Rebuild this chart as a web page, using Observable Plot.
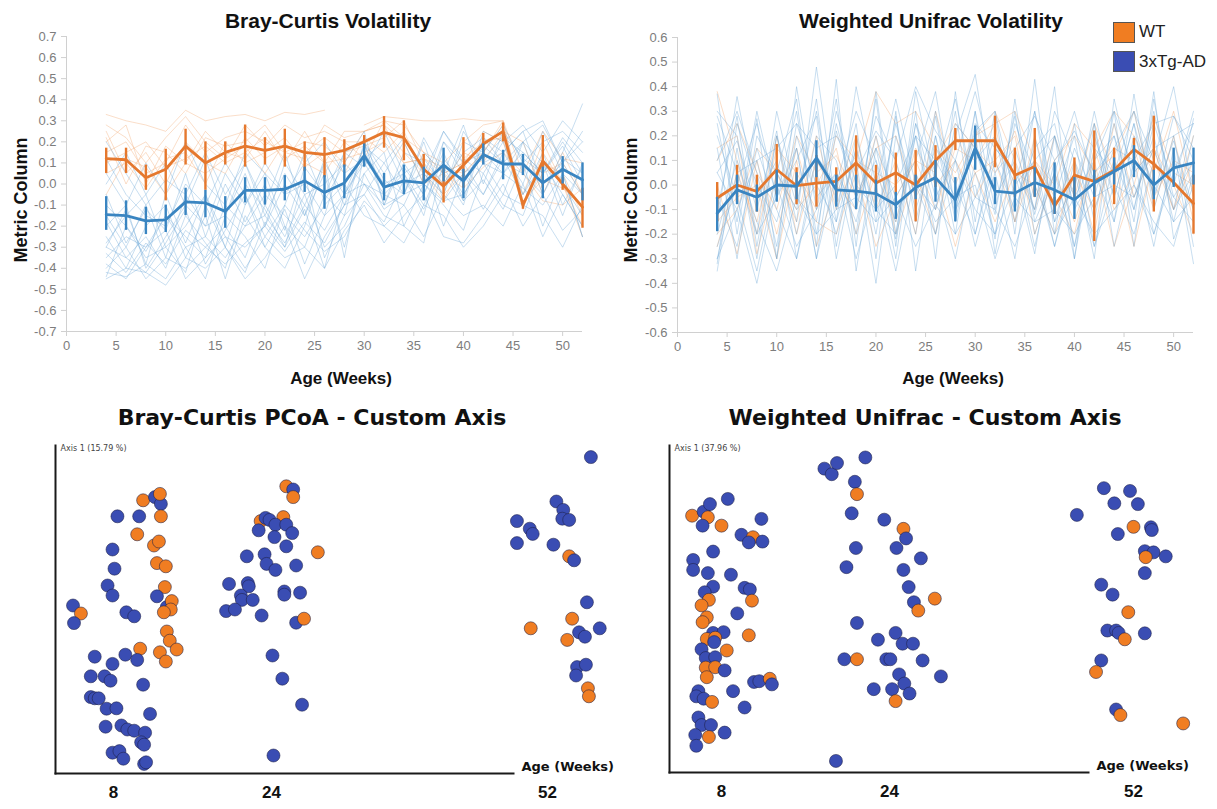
<!DOCTYPE html>
<html><head><meta charset="utf-8">
<script src="https://cdn.jsdelivr.net/npm/d3@7"></script>
<script src="https://cdn.jsdelivr.net/npm/@observablehq/plot@0.6"></script>
<style>
body{margin:0;background:#fff;}
#root{position:relative;width:1217px;height:809px;overflow:hidden;background:#fff;}
.pane{position:absolute;}
.txt{position:absolute;white-space:nowrap;color:#111;font-weight:bold;}
.sans{font-family:"Liberation Sans",Arial,sans-serif;}
.dv{font-family:"DejaVu Sans",Verdana,sans-serif;}
.sw{position:absolute;width:20px;height:19px;border:1px solid #555;}
</style></head><body><div id="root"></div>
<script>
// ---------- shared categories ----------
const groups = ["WT", "3xTg-AD"];
const weeks = [4,6,8,10,12,14,16,18,20,22,24,26,28,30,32,34,36,38,40,42,44,46,48,50,52];
const xTicks = [0,5,10,15,20,25,30,35,40,45,50];
const bcYTicks = [-0.7,-0.6,-0.5,-0.4,-0.3,-0.2,-0.1,0,0.1,0.2,0.3,0.4,0.5,0.6,0.7];
const wuYTicks = [-0.6,-0.5,-0.4,-0.3,-0.2,-0.1,0,0.1,0.2,0.3,0.4,0.5,0.6];
const pcoaAges = [8, 24, 52];

// ---------- Bray-Curtis volatility: group means and error bars ----------
const bcWtMean = [0.12,0.115,0.03,0.07,0.18,0.10,0.15,0.18,0.16,0.18,0.15,0.14,0.16,0.20,0.245,0.22,0.07,-0.01,0.09,0.19,0.25,-0.10,0.11,0.00,-0.11];
const bcWtLo   = [0.05,0.05,-0.03,-0.08,0.09,-0.03,0.09,0.08,0.09,0.08,0.06,0.03,0.08,0.17,0.17,0.11,0.00,-0.09,-0.02,0.12,0.20,-0.12,-0.02,-0.03,-0.21];
const bcWtHi   = [0.17,0.17,0.09,0.165,0.26,0.20,0.20,0.28,0.22,0.26,0.20,0.22,0.21,0.23,0.32,0.30,0.14,0.09,0.22,0.24,0.29,-0.08,0.23,0.03,-0.02];
const bcTgMean = [-0.145,-0.15,-0.175,-0.17,-0.085,-0.09,-0.13,-0.03,-0.03,-0.025,0.015,-0.04,0.005,0.135,-0.015,0.015,0.005,0.09,0.015,0.14,0.095,0.095,0.005,0.07,0.02];
const bcTgLo   = [-0.22,-0.22,-0.24,-0.23,-0.15,-0.16,-0.21,-0.09,-0.10,-0.08,-0.04,-0.12,-0.07,0.08,-0.08,-0.05,-0.08,0.01,-0.07,0.09,0.02,0.04,-0.07,0.0,-0.08];
const bcTgHi   = [-0.06,-0.08,-0.11,-0.10,-0.02,-0.03,-0.06,0.03,0.03,0.04,0.08,0.04,0.09,0.19,0.05,0.09,0.08,0.17,0.07,0.19,0.16,0.14,0.08,0.13,0.10];

// individual subjects (faint)
const bcTgSubjects = [
 [-0.42,-0.44,-0.38,-0.45,-0.30,-0.25,-0.35,-0.20,-0.15,-0.28,-0.10,-0.22,-0.05,0.10,-0.05,0.05,-0.10,0.12,0.0,0.18,0.10,0.05,-0.05,0.12,0.05],
 [-0.30,-0.35,-0.25,-0.40,-0.15,-0.28,-0.40,-0.10,0.05,-0.20,-0.30,-0.05,-0.15,0.20,-0.10,-0.05,0.15,0.05,-0.10,0.22,0.15,0.25,0.0,0.10,-0.05],
 [-0.10,-0.20,-0.35,-0.30,-0.20,-0.05,-0.25,-0.30,-0.20,0.0,-0.15,0.05,-0.30,0.05,0.15,-0.20,-0.28,0.10,-0.05,0.10,-0.05,0.20,0.10,-0.15,0.10],
 [0.12,-0.05,-0.15,-0.20,0.0,-0.10,0.10,-0.05,-0.25,-0.10,0.15,-0.08,0.10,0.25,-0.10,0.15,0.10,-0.05,0.20,0.15,0.28,0.10,0.20,0.25,0.15],
 [-0.40,-0.30,-0.45,-0.35,-0.40,-0.30,-0.20,-0.35,-0.10,-0.25,-0.05,-0.30,-0.20,0.0,-0.15,-0.20,0.0,-0.10,-0.22,0.05,-0.10,-0.15,0.10,-0.05,-0.20],
 [-0.25,-0.40,-0.20,-0.10,-0.35,-0.15,-0.45,-0.15,-0.30,-0.40,-0.20,0.10,-0.35,0.15,0.0,0.05,-0.15,0.20,0.10,-0.05,0.15,0.0,0.25,0.05,-0.25],
 [0.05,-0.10,0.10,-0.05,0.20,0.0,-0.10,0.15,0.05,-0.05,0.10,0.20,0.05,0.12,0.20,0.0,0.05,0.25,0.10,0.15,0.05,0.20,-0.05,0.15,0.38],
 [-0.35,-0.25,-0.30,-0.15,-0.25,-0.35,-0.10,-0.20,-0.05,-0.15,-0.25,-0.10,0.0,-0.15,-0.20,-0.28,-0.10,-0.15,-0.30,-0.20,-0.05,-0.10,-0.15,-0.30,-0.10],
 [-0.20,-0.10,-0.40,-0.25,-0.10,-0.20,0.05,-0.10,0.10,-0.05,0.0,-0.15,0.15,0.20,0.05,0.20,0.0,0.25,0.12,0.05,0.20,0.28,0.15,0.30,0.20],
 [0.0,0.15,-0.05,0.10,-0.10,0.12,-0.15,0.05,-0.20,0.10,-0.05,0.0,0.10,0.0,-0.10,0.10,-0.05,0.15,-0.08,0.25,0.20,-0.05,0.10,0.0,-0.15],
 [-0.45,-0.40,-0.42,-0.48,-0.35,-0.40,-0.30,-0.45,-0.35,-0.20,-0.45,-0.25,-0.10,-0.05,-0.20,-0.10,-0.25,-0.05,-0.15,-0.10,-0.20,0.0,-0.25,-0.05,-0.20],
 [-0.28,-0.15,-0.05,-0.30,-0.42,-0.10,-0.30,0.0,-0.12,-0.30,0.05,-0.35,-0.15,-0.05,0.10,-0.05,0.20,-0.08,0.05,-0.12,0.05,0.15,0.05,0.20,0.05],
 [-0.38,-0.45,-0.30,-0.22,-0.45,-0.35,-0.25,-0.40,-0.25,-0.35,-0.30,-0.40,-0.22,-0.10,-0.28,-0.15,-0.05,-0.25,-0.28,-0.15,0.0,-0.20,-0.05,-0.22,-0.12],
 [-0.15,-0.30,-0.10,-0.35,-0.05,-0.20,-0.15,0.10,-0.15,0.05,-0.10,0.10,-0.05,0.18,0.10,0.22,0.05,-0.05,0.25,0.10,0.15,0.25,0.30,0.10,0.25],
 [-0.33,-0.42,-0.28,-0.38,-0.22,-0.30,-0.38,-0.28,-0.20,-0.32,-0.18,-0.28,-0.10,0.05,-0.12,-0.05,0.0,-0.08,-0.05,0.10,0.05,-0.02,-0.10,0.05,-0.05],
 [-0.18,-0.35,-0.42,-0.28,-0.12,-0.38,-0.22,-0.05,-0.30,-0.12,-0.38,-0.15,-0.05,0.12,-0.02,0.08,-0.05,0.20,0.05,0.12,0.22,0.15,0.05,0.18,0.0],
 [-0.44,-0.20,-0.32,-0.15,-0.30,-0.45,-0.15,-0.25,-0.40,-0.10,-0.22,-0.32,-0.25,-0.08,-0.18,0.02,-0.12,0.08,-0.08,0.02,-0.12,0.10,-0.20,0.05,-0.25],
 [-0.05,-0.28,-0.12,-0.22,0.05,-0.25,0.0,-0.18,0.0,-0.22,0.08,-0.05,0.15,0.08,0.25,0.05,0.12,0.0,0.15,0.22,0.10,0.20,0.28,0.10,0.20],
 [-0.30,-0.12,-0.38,-0.05,-0.28,-0.05,-0.30,-0.42,-0.18,-0.30,-0.12,-0.40,-0.05,0.0,-0.05,-0.10,0.10,-0.20,0.05,-0.05,0.12,-0.05,0.15,-0.10,0.08],
 [0.20,0.05,-0.10,0.02,-0.05,0.15,-0.05,0.10,-0.10,0.15,-0.15,0.12,-0.10,0.18,0.02,-0.05,0.22,0.05,0.28,0.0,0.25,0.12,0.05,0.22,0.10]
];
const bcWtSubjects = [
 [0.33,0.30,0.28,0.25,0.35,0.30,0.32,0.33,0.30,0.34,0.33,0.35],
 [0.15,0.20,0.05,0.10,0.28,0.15,0.22,0.25,0.20,0.15,0.20,0.18,0.10,0.25,0.30,0.28,0.15,0.05,0.10,0.20,0.25,0.20,-0.05,0.15,-0.05],
 [0.05,0.10,-0.02,0.12,0.15,0.0,0.20,0.10,0.15,0.22,0.10,0.05,0.20,0.20,0.25,0.15,0.05,-0.05,0.05,0.15,0.30,-0.10,0.10,0.05,-0.15],
 [0.25,0.05,0.15,0.0,0.20,0.10,0.05,0.22,0.12,0.18,0.15,0.22,0.15,0.18,0.22,0.30,0.10,0.0,0.15,0.10,0.25,-0.05,0.20,0.0,-0.20],
 [0.20,0.28,0.0,0.18,0.10,0.25,0.15,0.12,0.25,0.10,0.25,0.10,0.25,0.25,0.28,0.20,0.0,0.05,0.10,0.25,0.20,-0.10,0.05,0.10,-0.05],
 [null,null,null,null,null,null,null,null,null,null,null,null,null,0.28,0.32,0.31,0.30,0.30,0.31,0.30,0.30],
 [0.10,0.15,0.20,0.08,0.12,0.18,0.10,0.15,0.22,0.12,0.18,0.10,0.12,0.15,0.20,0.10,0.12,0.05,-0.02,0.08,0.15,0.05,-0.08,-0.10,-0.02],
 [0.28,0.22,0.10,0.22,0.32,0.20,0.12,0.28,0.18,0.28,0.22,0.25,0.20,0.12,0.30,0.22,0.15,0.10,0.20,0.28,0.30,0.05,0.25,0.12,0.10],
 [-0.05,0.12,0.08,-0.05,0.10,0.05,0.12,0.18,0.05,0.20,0.08,0.15,0.05,0.22,0.15,0.25,0.05,-0.08,0.12,0.20,0.22,-0.12,0.15,0.0,-0.25],
 [0.22,0.0,0.18,0.15,0.05,0.22,0.18,0.20,0.28,0.15,0.12,0.28,0.22,0.25,0.28,0.10,0.12,0.08,0.05,0.15,0.28,-0.08,0.02,-0.02,-0.10]
];

// ---------- Weighted UniFrac volatility ----------
const wuWtMean = [-0.053,0.0,-0.026,0.063,-0.003,0.008,0.015,0.09,0.008,0.05,0.0,0.10,0.18,0.18,0.18,0.04,0.075,-0.085,0.04,0.015,0.06,0.145,0.085,0.01,-0.075];
const wuWtLo   = [-0.15,-0.07,-0.11,-0.04,-0.08,-0.09,-0.07,-0.03,-0.07,-0.04,-0.15,-0.01,0.14,0.14,0.07,-0.05,-0.05,-0.12,-0.06,-0.23,-0.08,0.08,-0.11,0.0,-0.2];
const wuWtHi   = [0.01,0.08,0.04,0.165,0.07,0.12,0.07,0.2,0.08,0.13,0.14,0.16,0.23,0.22,0.28,0.15,0.23,-0.05,0.11,0.22,0.15,0.19,0.28,0.02,0.04];
const wuTgMean = [-0.115,-0.02,-0.05,0.0,-0.005,0.11,-0.02,-0.025,-0.035,-0.08,-0.01,0.03,-0.06,0.15,-0.025,-0.033,0.01,-0.02,-0.06,0.008,0.055,0.1,0.0,0.07,0.09];
const wuTgLo   = [-0.19,-0.08,-0.11,-0.07,-0.06,0.03,-0.09,-0.1,-0.11,-0.14,-0.06,-0.07,-0.15,0.06,-0.08,-0.11,-0.05,-0.12,-0.14,-0.05,0.0,0.03,-0.06,-0.01,0.0];
const wuTgHi   = [-0.05,0.04,0.0,0.06,0.05,0.18,0.04,0.04,0.02,-0.03,0.04,0.1,0.03,0.24,0.03,0.02,0.07,0.09,0.03,0.06,0.11,0.16,0.06,0.15,0.15];

const wuTgSubjects = [
 [0.37,-0.20,0.27,-0.30,0.40,-0.10,0.35,-0.25,0.38,-0.20,0.30,-0.30,0.38,-0.15,0.30,-0.20,0.43,-0.20,0.25,-0.15,0.30,-0.25,0.35,-0.10,0.27],
 [-0.35,0.15,-0.30,0.20,-0.15,0.48,-0.10,0.25,-0.30,0.30,-0.35,0.20,-0.20,0.30,-0.28,0.15,-0.10,0.40,-0.30,0.25,-0.15,0.37,-0.10,0.20,-0.25],
 [0.05,-0.10,0.10,-0.25,0.25,0.0,-0.15,0.40,0.0,0.35,0.0,-0.10,0.20,0.45,-0.05,0.10,-0.25,0.10,-0.30,0.15,0.05,0.30,0.10,0.40,-0.05],
 [-0.15,0.36,-0.05,0.10,-0.20,0.20,0.10,-0.20,0.35,-0.25,0.38,0.0,-0.30,0.10,0.20,-0.15,0.30,-0.05,0.20,-0.25,0.10,-0.10,0.25,0.0,0.30],
 [0.20,-0.05,-0.35,0.05,0.35,-0.25,0.43,-0.35,0.15,-0.05,0.10,0.38,-0.10,0.05,-0.20,0.25,0.05,-0.25,0.10,-0.30,0.35,0.0,-0.20,0.10,-0.10],
 [-0.25,0.0,0.25,-0.05,0.10,0.28,-0.30,0.10,-0.40,0.20,-0.10,0.15,0.0,-0.20,0.10,-0.10,0.15,0.25,-0.10,0.05,-0.15,0.20,0.0,-0.15,0.20],
 [0.30,0.20,-0.20,0.30,-0.05,-0.15,0.30,0.0,-0.10,0.0,0.20,-0.20,0.25,0.15,-0.12,0.30,-0.20,0.05,0.30,0.0,0.20,-0.05,0.15,-0.10,0.05],
 [-0.05,-0.25,0.15,-0.10,-0.30,0.05,-0.20,0.15,-0.10,-0.20,0.25,-0.05,0.10,-0.25,0.05,-0.30,0.20,-0.15,0.0,0.25,-0.25,0.10,-0.25,0.15,-0.32],
 [0.10,0.30,0.05,-0.30,0.20,-0.05,0.05,-0.10,0.28,0.10,-0.20,0.28,-0.15,0.25,0.15,0.05,-0.10,0.30,0.10,-0.10,0.15,0.30,-0.05,0.28,0.10],
 [-0.30,-0.10,-0.40,0.0,-0.25,-0.10,0.05,-0.30,0.0,-0.35,0.05,-0.15,-0.05,0.0,-0.30,-0.05,-0.15,-0.10,-0.20,-0.05,0.0,-0.20,0.10,-0.05,-0.15],
 [0.28,0.05,0.10,0.15,0.25,0.15,0.20,0.05,0.22,0.10,0.40,0.22,0.10,0.38,0.05,0.15,0.28,0.10,0.22,0.05,0.15,0.10,0.25,0.28,0.15],
 [-0.20,0.10,-0.15,-0.35,-0.05,-0.20,-0.10,-0.05,-0.15,-0.05,-0.25,-0.08,-0.20,-0.05,-0.10,-0.25,0.0,-0.20,-0.05,-0.20,-0.10,0.0,-0.15,-0.25,0.05],
 [-0.32,0.25,0.0,-0.15,0.15,-0.30,0.22,-0.05,0.15,-0.22,0.20,-0.10,0.30,-0.20,0.15,0.05,-0.28,0.20,-0.10,0.30,-0.05,0.25,-0.20,0.05,0.25],
 [0.15,-0.30,0.20,0.05,-0.10,0.35,-0.25,0.20,-0.15,0.25,-0.05,0.30,-0.10,0.20,-0.22,0.35,-0.15,0.05,-0.25,0.10,0.20,-0.15,0.38,-0.22,0.0],
 [0.25,-0.15,0.30,-0.05,0.30,-0.20,0.25,-0.05,0.10,-0.30,0.25,0.05,0.35,-0.05,0.20,0.0,0.30,-0.15,0.15,-0.05,0.25,-0.10,0.30,-0.05,0.10],
 [-0.10,0.28,-0.25,0.20,-0.08,0.30,-0.15,0.15,-0.20,0.28,-0.15,0.20,-0.12,0.30,-0.10,0.28,-0.12,0.20,-0.25,0.20,-0.05,0.25,-0.05,0.18,-0.10],
 [-0.30,0.05,-0.20,-0.05,0.15,-0.30,0.05,-0.15,0.20,-0.10,0.0,-0.20,0.10,-0.10,-0.20,0.0,0.10,-0.25,0.05,-0.25,0.0,-0.05,0.20,-0.15,-0.05],
 [0.05,0.18,-0.10,0.22,-0.30,0.12,0.0,0.30,0.10,-0.15,0.20,0.10,-0.05,0.22,0.30,-0.05,0.10,0.20,-0.05,0.10,0.30,0.05,0.15,0.20,0.25]
];
const wuWtSubjects = [
 [0.38,0.10,-0.20,0.15,0.05,-0.10,0.20,0.10,0.38,0.25,0.30,0.15,0.05,0.20,0.25,0.30,0.10,0.0,0.25,0.15,0.30,0.20,0.05,0.30,-0.05],
 [-0.25,0.05,-0.15,0.20,-0.20,0.10,-0.05,0.20,-0.10,0.10,-0.20,0.30,0.0,0.20,0.30,0.10,-0.10,0.20,-0.05,0.25,0.05,0.15,-0.10,0.20,-0.15],
 [0.0,-0.28,0.10,-0.20,0.15,-0.15,-0.20,0.05,-0.25,-0.05,0.10,-0.10,0.15,0.10,0.25,-0.15,0.20,-0.10,0.10,-0.20,0.25,-0.05,0.15,0.0,-0.20],
 [0.15,0.20,-0.28,0.05,-0.10,0.0,0.15,-0.20,0.05,0.0,0.10,0.05,-0.25,0.05,0.10,0.20,-0.20,0.05,-0.15,0.10,-0.25,0.0,0.28,0.05,0.0],
 [-0.15,-0.05,0.0,-0.30,0.10,-0.25,0.0,-0.10,0.20,-0.20,0.05,-0.20,0.20,0.05,-0.15,0.05,0.0,-0.20,0.05,-0.10,0.10,-0.25,0.10,-0.10,0.10],
 [0.10,0.25,0.05,-0.10,0.20,0.05,0.12,-0.05,0.15,0.20,-0.05,0.10,0.25,0.15,0.05,0.22,-0.05,0.10,0.20,0.05,0.12,0.30,-0.05,0.10,0.05],
 [-0.20,-0.10,0.15,0.05,-0.15,0.20,-0.10,0.10,0.05,-0.15,0.15,0.0,0.10,-0.05,0.10,-0.15,0.10,-0.05,-0.20,0.15,-0.10,0.05,0.15,-0.10,0.20]
];

// ---------- PCoA samples: [jittered age (weeks), Axis 1 score, group index] ----------
const bcWeek8 = [
 [3.9,0.010,1],[4.7,-0.010,0],[4.0,-0.034,1],[8.4,0.233,1],[10.6,0.233,1],[11.0,0.273,0],[12.2,0.281,1],[12.8,0.264,1],[12.7,0.289,0],[12.8,0.233,0],
 [10.4,0.188,0],[12.1,0.160,0],[12.6,0.170,0],[7.9,0.150,1],[8.1,0.102,1],[12.4,0.116,0],[13.3,0.108,0],[7.4,0.060,1],[7.9,0.035,1],[13.2,0.056,0],
 [12.4,0.033,1],[13.4,0.006,1],[13.9,0.021,0],[13.8,0,0],[13.1,-0.007,0],[9.3,-0.007,1],[10.1,-0.017,1],[13.4,-0.055,0],[13.7,-0.078,0],[14.4,-0.100,0],
 [10.7,-0.098,0],[9.2,-0.113,1],[10.4,-0.126,1],[12.7,-0.107,0],[13.3,-0.130,0],[6.1,-0.118,1],[7.9,-0.136,1],[5.7,-0.167,1],[7.1,-0.167,1],[7.7,-0.178,1],
 [11.0,-0.188,1],[5.7,-0.219,1],[6.1,-0.222,1],[6.5,-0.222,1],[7.3,-0.248,1],[8.3,-0.247,1],[11.7,-0.261,1],[7.2,-0.293,1],[8.8,-0.290,1],[9.4,-0.300,1],
 [10.1,-0.303,1],[11.2,-0.308,1],[10.8,-0.332,1],[11.1,-0.338,1],[7.9,-0.358,1],[8.6,-0.354,1],[9.0,-0.373,1],[11.1,-0.386,1],[11.3,-0.382,1]
];
const bcWeek24 = [
 [25.5,0.308,0],[26.2,0.300,1],[26.2,0.281,0],[22.9,0.221,0],[23.4,0.229,1],[23.8,0.224,1],[25.2,0.231,0],[24.4,0.212,1],[25.5,0.212,1],[26.1,0.191,1],
 [22.7,0.198,1],[24.3,0.181,1],[25.5,0.158,1],[21.5,0.133,1],[23.3,0.138,1],[23.5,0.114,1],[24.4,0.099,1],[26.5,0.110,1],[19.7,0.064,1],[21.6,0.066,1],
 [21.7,0.058,1],[20.9,0.035,1],[21.0,0.024,1],[22.1,0.024,1],[25.3,0.045,1],[25.3,0.037,1],[26.9,0.042,1],[19.4,-0.004,1],[20.3,0,1],[23.0,-0.015,1],
 [26.5,-0.033,1],[27.3,-0.023,0],[24.1,-0.115,1],[25.1,-0.173,1],[27.1,-0.238,1],[24.2,-0.365,1],[28.7,0.143,0]
];
const bcWeek52 = [
 [56.4,0.381,1],[52.9,0.270,1],[53.6,0.249,1],[53.5,0.227,1],[54.2,0.224,1],[48.9,0.221,1],[50.2,0.202,1],[50.5,0.189,1],[48.9,0.166,1],[52.6,0.162,1],
 [54.2,0.133,0],[54.7,0.123,1],[56.0,0.018,1],[54.5,-0.023,0],[50.3,-0.047,0],[57.3,-0.047,1],[55.2,-0.057,1],[55.8,-0.068,1],[54.0,-0.076,0],[55.0,-0.144,1],
 [55.9,-0.138,1],[54.9,-0.165,1],[56.1,-0.197,0],[56.2,-0.217,0]
];
const wuWeek8 = [
 [5.2,0.234,0],[6.3,0.244,1],[6.9,0.263,1],[6.7,0.230,0],[6.2,0.209,1],[8.6,0.276,1],[8.0,0.209,0],[11.8,0.226,1],[9.9,0.186,1],[11.0,0.180,0],
 [10.6,0.167,1],[11.9,0.169,1],[7.2,0.144,1],[5.3,0.123,1],[5.3,0.098,1],[6.7,0.090,1],[8.9,0.086,1],[7.2,0.056,1],[6.4,0.042,1],[10.2,0.053,1],
 [10.7,0.049,1],[6.8,0.023,0],[6.1,0.009,0],[10.9,0.021,0],[9.5,-0.011,1],[6.6,-0.021,0],[6.2,-0.033,0],[7.2,-0.060,1],[8.2,-0.058,1],[6.6,-0.075,0],
 [7.4,-0.072,0],[7.3,-0.083,1],[10.6,-0.066,0],[6.1,-0.101,1],[8.5,-0.104,0],[6.5,-0.123,1],[7.4,-0.121,1],[6.5,-0.147,0],[7.4,-0.146,0],[8.3,-0.154,1],
 [6.6,-0.171,0],[11.1,-0.183,1],[11.6,-0.181,1],[12.6,-0.175,0],[12.8,-0.189,1],[9.1,-0.206,1],[5.8,-0.206,1],[5.6,-0.219,1],[6.3,-0.225,1],[7.1,-0.233,0],
 [10.2,-0.247,1],[5.8,-0.272,1],[6.1,-0.291,1],[7.0,-0.291,1],[8.3,-0.310,1],[5.5,-0.316,1],[6.8,-0.321,0],[5.6,-0.343,1]
];
const wuWeek24 = [
 [17.8,0.352,1],[18.5,0.338,1],[19.0,0.366,1],[21.7,0.380,1],[20.7,0.319,1],[20.9,0.288,0],[20.4,0.240,1],[23.5,0.224,1],[25.6,0.201,0],[25.9,0.177,1],
 [20.8,0.153,1],[24.8,0.153,1],[19.9,0.105,1],[25.6,0.098,1],[27.6,0.127,1],[26.2,0.055,1],[26.8,0.017,1],[27.3,-0.004,0],[29.2,0.026,0],[20.9,-0.035,1],
 [24.7,-0.060,1],[22.9,-0.077,1],[25.5,-0.087,1],[26.7,-0.087,1],[27.8,-0.129,1],[19.7,-0.126,1],[20.9,-0.126,0],[23.7,-0.126,1],[24.1,-0.126,1],[25.1,-0.164,1],
 [29.9,-0.169,1],[25.7,-0.187,1],[22.5,-0.201,1],[24.3,-0.201,1],[26.3,-0.212,1],[24.7,-0.231,0],[18.9,-0.381,1]
];
const wuWeek52 = [
 [45.5,0.236,1],[48.6,0.303,1],[51.6,0.296,1],[49.8,0.265,1],[52.5,0.263,1],[52.0,0.206,0],[54.0,0.205,1],[54.1,0.198,1],[50.2,0.188,1],[53.3,0.145,1],
 [54.3,0.142,1],[53.4,0.130,0],[55.7,0.132,1],[53.3,0.090,1],[48.3,0.061,1],[49.6,0.036,1],[51.4,-0.008,0],[49.0,-0.054,1],[50.0,-0.054,1],[50.3,-0.060,1],
 [51.0,-0.076,0],[53.3,-0.061,1],[48.3,-0.129,1],[47.7,-0.158,0],[50.0,-0.252,1],[50.5,-0.266,0],[57.7,-0.287,0]
];

// ---------- styling ----------
const ORANGE_LINE = "#e5782e", BLUE_LINE = "#3a85c1";
const ORANGE_FAINT = "#f2a468", BLUE_FAINT = "#6ea9d8";
const ORANGE_DOT = "#f07d22", BLUE_DOT = "#3a4db3";
const SANS = "'Liberation Sans', Arial, sans-serif";
const DV = "'DejaVu Sans', Verdana, sans-serif";

const meanTable = (m, lo, hi) => weeks.map((w, i) => ({week: w, mean: m[i], lo: lo[i], hi: hi[i]}));
const subjectTable = subs => subs.flatMap((vals, id) => vals.map((v, i) => ({id, week: weeks[i], value: v})));

function volatility({width, marginLeft, marginRight, marginTop, marginBottom, yDomain, yTicks, wt, tg, wtSubj, tgSubj}) {
  return Plot.plot({
    width, height: 400, marginLeft, marginRight, marginTop, marginBottom,
    style: {fontFamily: SANS, fontSize: "13px", color: "#7d7d7d", background: "transparent", overflow: "visible"},
    x: {domain: [0, 52]},
    y: {domain: yDomain},
    marks: [
      Plot.ruleX([0], {stroke: "#d0d0d0"}),
      Plot.ruleY([yDomain[0]], {stroke: "#d0d0d0"}),
      Plot.axisY({ticks: yTicks, tickFormat: d => d.toFixed(1), tickSize: 5, tickPadding: 5, label: null, stroke: "#d0d0d0", fill: "#7d7d7d"}),
      Plot.axisX({ticks: xTicks, tickSize: 5, tickPadding: 4, label: null, stroke: "#d0d0d0", fill: "#7d7d7d"}),
      Plot.line(subjectTable(wtSubj), {x: "week", y: "value", z: "id", stroke: ORANGE_FAINT, strokeOpacity: 0.36, strokeWidth: 1}),
      Plot.line(subjectTable(tgSubj), {x: "week", y: "value", z: "id", stroke: BLUE_FAINT, strokeOpacity: 0.38, strokeWidth: 1}),
      Plot.ruleX(meanTable(...wt), {x: "week", y1: "lo", y2: "hi", stroke: ORANGE_LINE, strokeWidth: 2.4}),
      Plot.line(meanTable(...wt), {x: "week", y: "mean", stroke: ORANGE_LINE, strokeWidth: 2.8}),
      Plot.ruleX(meanTable(...tg), {x: "week", y1: "lo", y2: "hi", stroke: BLUE_LINE, strokeWidth: 2.4}),
      Plot.line(meanTable(...tg), {x: "week", y: "mean", stroke: BLUE_LINE, strokeWidth: 2.8})
    ]
  });
}

function pcoa({width, marginLeft, marginRight, marginBottom, xRange, dots, axisLabel}) {
  return Plot.plot({
    width, height: 409, marginLeft, marginRight, marginTop: 45, marginBottom,
    style: {fontFamily: DV, fontSize: "12px", color: "#111", background: "transparent", overflow: "visible"},
    x: {type: "linear", domain: pcoaAges, range: xRange, axis: null},
    y: {type: "linear", domain: [-0.41, 0.41], axis: null},
    marks: [
      Plot.frame({anchor: "left", stroke: "#1a1a1a", strokeWidth: 2}),
      Plot.frame({anchor: "bottom", stroke: "#1a1a1a", strokeWidth: 2}),
      Plot.dot(dots, {x: d => d[0], y: d => d[1], r: 6.5,
        fill: d => d[2] === 0 ? ORANGE_DOT : BLUE_DOT,
        stroke: "#1d1f45", strokeOpacity: 0.55, strokeWidth: 1}),
      Plot.text(pcoaAges, {x: d => d, text: d => String(d), frameAnchor: "bottom", dy: 24,
        fontSize: 17, fontWeight: "bold", fontFamily: SANS, fill: "#111"}),
      Plot.text(["Age (Weeks)"], {text: d => d, frameAnchor: "bottom-right", textAnchor: "start", dx: 8, dy: -3,
        fontSize: 13, fontWeight: "bold", fill: "#111"}),
      Plot.text([axisLabel], {text: d => d, frameAnchor: "top-left", textAnchor: "start", dx: 5, dy: 0,
        fontSize: 8, fill: "#444"})
    ]
  });
}

const root = document.getElementById("root");
function place(node, left, top) {
  const d = document.createElement("div");
  d.className = "pane"; d.style.left = left + "px"; d.style.top = top + "px";
  d.appendChild(node); root.appendChild(d);
}
function label(text, cls, css) {
  const d = document.createElement("div");
  d.className = "txt " + cls; d.textContent = text;
  Object.assign(d.style, css); root.appendChild(d); return d;
}

place(volatility({width: 600, marginLeft: 66, marginRight: 18, marginTop: 36, marginBottom: 69,
  yDomain: [-0.7, 0.7], yTicks: bcYTicks,
  wt: [bcWtMean, bcWtLo, bcWtHi], tg: [bcTgMean, bcTgLo, bcTgHi],
  wtSubj: bcWtSubjects, tgSubj: bcTgSubjects}), 0, 0);

place(volatility({width: 607, marginLeft: 67, marginRight: 24, marginTop: 37, marginBottom: 68,
  yDomain: [-0.6, 0.6], yTicks: wuYTicks,
  wt: [wuWtMean, wuWtLo, wuWtHi], tg: [wuTgMean, wuTgLo, wuTgHi],
  wtSubj: wuWtSubjects, tgSubj: wuTgSubjects}), 610, 0);

place(pcoa({width: 620, marginLeft: 55, marginRight: 107, marginBottom: 36,
  xRange: [113, 271, 547], dots: [...bcWeek8, ...bcWeek24, ...bcWeek52],
  axisLabel: "Axis 1 (15.79 %)"}), 0, 400);

place(pcoa({width: 597, marginLeft: 49, marginRight: 129, marginBottom: 37,
  xRange: [101, 269, 513], dots: [...wuWeek8, ...wuWeek24, ...wuWeek52],
  axisLabel: "Axis 1 (37.96 %)"}), 620, 400);

// titles and axis labels
const center = {transform: "translateX(-50%)"};
label("Bray-Curtis Volatility", "sans", {left: "328px", top: "10px", fontSize: "21px", lineHeight: "21px", ...center});
label("Weighted Unifrac Volatility", "sans", {left: "931px", top: "10px", fontSize: "21px", lineHeight: "21px", ...center});
label("Metric Column", "sans", {left: "21px", top: "200px", fontSize: "18px", lineHeight: "18px", transform: "translate(-50%,-50%) rotate(-90deg)"});
label("Metric Column", "sans", {left: "631px", top: "200px", fontSize: "18px", lineHeight: "18px", transform: "translate(-50%,-50%) rotate(-90deg)"});
label("Age (Weeks)", "sans", {left: "341px", top: "370px", fontSize: "17px", lineHeight: "17px", ...center});
label("Age (Weeks)", "sans", {left: "953px", top: "370px", fontSize: "17px", lineHeight: "17px", ...center});
label("Bray-Curtis PCoA - Custom Axis", "dv", {left: "312px", top: "407px", fontSize: "22px", lineHeight: "22px", ...center});
label("Weighted Unifrac - Custom Axis", "dv", {left: "925px", top: "407px", fontSize: "22px", lineHeight: "22px", ...center});

// legend
const legendColors = [ORANGE_DOT, BLUE_DOT];
groups.forEach((g, i) => {
  const sw = document.createElement("div");
  sw.className = "sw"; sw.style.left = "1113px"; sw.style.top = (22 + i * 29) + "px";
  sw.style.background = legendColors[i]; root.appendChild(sw);
  label(g, "sans", {left: "1139px", top: (23 + i * 30) + "px", fontSize: "17px", lineHeight: "17px", fontWeight: "normal", color: "#222"});
});
</script></body></html>
